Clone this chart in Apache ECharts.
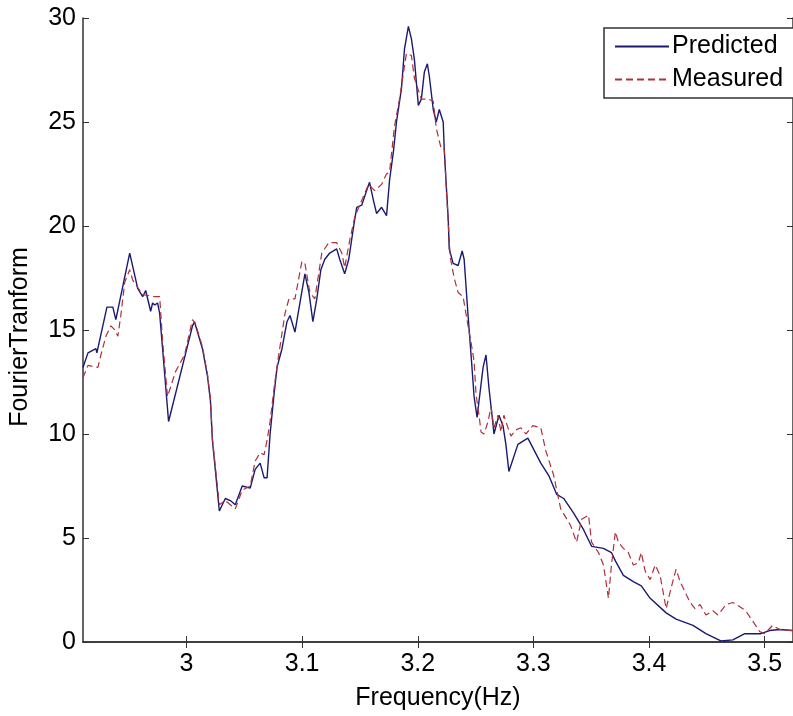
<!DOCTYPE html>
<html>
<head>
<meta charset="utf-8">
<title>Fourier transform</title>
<script src="https://cdn.jsdelivr.net/npm/echarts@6/dist/echarts.min.js"></script>
<style>
  html, body { margin: 0; padding: 0; background: #fff; }
  #chart { width: 793px; height: 716px; }
</style>
</head>
<body>
<div id="chart"></div>
<script>
// 预测曲线
const predFreq = [2.9105, 2.9148, 2.9217, 2.9225, 2.9312, 2.9363, 2.9389, 2.9509, 2.9578, 2.9621,
  2.9647, 2.9690, 2.9707, 2.9725, 2.9750, 2.9768, 2.9845, 3.0052, 3.0069, 3.0138,
  3.0181, 3.0207, 3.0224, 3.0284, 3.0336, 3.0379, 3.0422, 3.0482, 3.0551, 3.0594,
  3.0637, 3.0671, 3.0697, 3.0723, 3.0757, 3.0783, 3.0826, 3.0869, 3.0895, 3.0938,
  3.0981, 3.1024, 3.1059, 3.1093, 3.1127, 3.1162, 3.1196, 3.1239, 3.1299, 3.1325,
  3.1368, 3.1403, 3.1446, 3.1472, 3.1515, 3.1558, 3.1583, 3.1618, 3.1644, 3.1687,
  3.1730, 3.1756, 3.1790, 3.1816, 3.1859, 3.1885, 3.1919, 3.1945, 3.1971, 3.2005,
  3.2031, 3.2057, 3.2083, 3.2100, 3.2134, 3.2160, 3.2186, 3.2220, 3.2229, 3.2246,
  3.2263, 3.2272, 3.2306, 3.2349, 3.2384, 3.2401, 3.2435, 3.2461, 3.2487, 3.2513,
  3.2530, 3.2565, 3.2590, 3.2616, 3.2642, 3.2659, 3.2702, 3.2737, 3.2762, 3.2788,
  3.2866, 3.2952, 3.3064, 3.3133, 3.3201, 3.3262, 3.3348, 3.3434, 3.3503, 3.3606,
  3.3675, 3.3709, 3.3778, 3.3864, 3.3933, 3.4010, 3.4148, 3.4234, 3.4380, 3.4492,
  3.4621, 3.4725, 3.4828, 3.4966, 3.5043, 3.5129, 3.5241]
const predVal = [13.2, 13.9, 14.1, 13.9, 16.1, 16.1, 15.5, 18.7, 17.0, 16.6,
  16.9, 15.9, 16.3, 16.2, 16.3, 15.8, 10.6, 15.2, 15.4, 14.1,
  12.8, 11.6, 9.7, 6.3, 6.9, 6.8, 6.6, 7.5, 7.4, 8.3,
  8.6, 7.9, 7.9, 10.0, 11.9, 13.2, 14.1, 15.4, 15.7, 14.9,
  16.3, 17.7, 16.8, 15.4, 16.5, 17.9, 18.4, 18.7, 18.9, 18.4,
  17.7, 18.4, 20.0, 20.9, 21.0, 21.7, 22.1, 21.2, 20.6, 20.9,
  20.5, 22.2, 23.6, 25.0, 26.6, 28.5, 29.6, 29.0, 28.0, 25.8,
  26.1, 27.4, 27.8, 27.2, 25.6, 25.0, 25.6, 25.0, 23.7, 22.0,
  20.4, 18.9, 18.2, 18.1, 18.8, 18.4, 15.7, 13.8, 11.8, 10.8,
  11.6, 13.2, 13.8, 12.2, 10.9, 10.0, 10.9, 10.4, 9.5, 8.2,
  9.5, 9.8, 8.6, 8.0, 7.1, 6.9, 6.2, 5.4, 4.6, 4.5,
  4.3, 3.9, 3.2, 2.9, 2.7, 2.1, 1.4, 1.1, 0.8, 0.4,
  0.05, 0.1, 0.4, 0.4, 0.55, 0.6, 0.55]

// 实测曲线
const measFreq = [2.9105, 2.9148, 2.9234, 2.9260, 2.9303, 2.9346, 2.9380, 2.9406, 2.9432, 2.9466,
  2.9509, 2.9535, 2.9621, 2.9725, 2.9768, 2.9793, 2.9836, 2.9905, 2.9983, 3.0052,
  3.0077, 3.0138, 3.0181, 3.0207, 3.0224, 3.0284, 3.0336, 3.0422, 3.0482, 3.0551,
  3.0594, 3.0637, 3.0671, 3.0697, 3.0723, 3.0757, 3.0792, 3.0852, 3.0886, 3.0938,
  3.0998, 3.1024, 3.1067, 3.1110, 3.1170, 3.1231, 3.1299, 3.1343, 3.1368, 3.1411,
  3.1454, 3.1497, 3.1575, 3.1627, 3.1687, 3.1730, 3.1756, 3.1799, 3.1842, 3.1902,
  3.1945, 3.1971, 3.2031, 3.2091, 3.2134, 3.2160, 3.2203, 3.2229, 3.2255, 3.2281,
  3.2315, 3.2349, 3.2392, 3.2435, 3.2461, 3.2487, 3.2504, 3.2530, 3.2547, 3.2573,
  3.2608, 3.2633, 3.2659, 3.2694, 3.2719, 3.2745, 3.2780, 3.2806, 3.2849, 3.2892,
  3.2935, 3.2995, 3.3064, 3.3107, 3.3176, 3.3236, 3.3322, 3.3373, 3.3417, 3.3477,
  3.3503, 3.3563, 3.3606, 3.3649, 3.3675, 3.3709, 3.3735, 3.3778, 3.3821, 3.3864,
  3.3907, 3.3933, 3.3967, 3.4010, 3.4053, 3.4096, 3.4122, 3.4148, 3.4191, 3.4234,
  3.4269, 3.4312, 3.4355, 3.4398, 3.4441, 3.4492, 3.4552, 3.4596, 3.4639, 3.4664,
  3.4725, 3.4785, 3.4836, 3.4897, 3.4957, 3.5000, 3.5069, 3.5129, 3.5241]
const measVal = [12.7, 13.3, 13.2, 13.8, 14.7, 15.2, 15.0, 14.7, 15.7, 17.3,
  17.9, 17.4, 16.7, 16.6, 16.6, 14.5, 11.8, 13.0, 13.8, 15.5,
  15.3, 14.2, 12.9, 11.7, 9.8, 6.6, 6.8, 6.4, 7.3, 7.5,
  8.7, 9.1, 9.0, 9.7, 10.6, 12.2, 13.6, 15.8, 16.5, 16.5,
  18.3, 18.2, 16.8, 16.5, 18.7, 19.2, 19.2, 18.7, 18.0, 19.3,
  20.4, 21.0, 22.0, 21.7, 22.0, 22.5, 22.6, 24.8, 26.1, 28.3,
  28.2, 27.1, 26.1, 26.1, 26.0, 24.7, 23.7, 23.7, 21.0, 18.5,
  17.5, 16.8, 16.6, 15.2, 14.4, 13.5, 11.9, 10.9, 10.1, 10.0,
  10.6, 11.3, 10.3, 10.9, 10.1, 10.9, 10.3, 9.9, 10.2, 10.3,
  10.0, 10.4, 10.3, 9.2, 8.0, 6.4, 5.6, 4.8, 5.9, 6.1,
  4.8, 4.3, 3.7, 2.1, 3.7, 5.3, 4.8, 4.5, 4.3, 3.7,
  3.8, 4.3, 3.4, 3.0, 3.7, 3.2, 2.4, 1.6, 2.6, 3.5,
  2.9, 2.4, 1.9, 1.6, 1.8, 1.3, 1.5, 1.3, 1.6, 1.8,
  1.9, 1.7, 1.5, 1.0, 0.5, 0.4, 0.8, 0.6, 0.55]

// 坐标轴刻度
const xTicks = [3, 3.1, 3.2, 3.3, 3.4, 3.5]
const xMin = 2.9105
const xMax = 3.5245

const FONT = "'Liberation Sans', Arial, sans-serif"
const AXIS_COLOR = '#333'

const toPairs = (xs, ys) => xs.map((x, i) => [x, ys[i]])

const chart = echarts.init(document.getElementById('chart'))

const baseX = {
  type: 'value',
  min: xMin,
  max: xMax,
  splitLine: { show: false },
  axisLine: { lineStyle: { color: AXIS_COLOR, width: 1.5 } },
  axisTick: { inside: true, length: 6, customValues: xTicks, lineStyle: { color: AXIS_COLOR } }
}
const baseY = {
  type: 'value',
  min: 0,
  max: 30,
  interval: 5,
  splitLine: { show: false },
  axisLine: { show: true, lineStyle: { color: AXIS_COLOR, width: 1.5 } },
  axisTick: { show: true, inside: true, length: 6, lineStyle: { color: AXIS_COLOR } }
}

const option = {
  animation: false,
  backgroundColor: '#fff',
  textStyle: { fontFamily: FONT },
  grid: { left: 80, right: 0, top: 18, bottom: 65 },
  legend: {
    orient: 'vertical',
    left: 604,
    top: 28,
    padding: [6, 30, 6, 10],
    itemGap: 8,
    itemWidth: 54,
    itemHeight: 14,
    backgroundColor: '#fff',
    borderColor: '#333',
    borderWidth: 1.5,
    borderRadius: 0,
    itemStyle: { opacity: 0 },
    textStyle: { fontSize: 25, color: '#000', fontFamily: FONT, padding: [0, 0, 0, -2] },
    data: ['Predicted', 'Measured']
  },
  xAxis: [
    Object.assign({}, baseX, {
      position: 'bottom',
      name: 'Frequency(Hz)',
      nameLocation: 'middle',
      nameGap: 44,
      nameTextStyle: { fontSize: 25, color: '#000' },
      axisLabel: { customValues: xTicks, fontSize: 25, color: '#000', margin: 10 }
    }),
    Object.assign({}, baseX, {
      position: 'top',
      axisLabel: { show: false }
    })
  ],
  yAxis: [
    Object.assign({}, baseY, {
      position: 'left',
      name: 'FourierTranform',
      nameLocation: 'middle',
      nameGap: 50,
      nameTextStyle: { fontSize: 25, color: '#000', padding: [0, 0, 0, -14] },
      axisLabel: { fontSize: 25, color: '#000', margin: 7 }
    }),
    Object.assign({}, baseY, {
      position: 'right',
      axisLabel: { show: false }
    })
  ],
  series: [
    {
      name: 'Predicted',
      type: 'line',
      showSymbol: false,
      symbol: 'none',
      data: toPairs(predFreq, predVal),
      lineStyle: { color: '#1a1a70', width: 1.4 },
      itemStyle: { color: '#1a1a70' }
    },
    {
      name: 'Measured',
      type: 'line',
      showSymbol: false,
      symbol: 'none',
      data: toPairs(measFreq, measVal),
      lineStyle: { color: '#b0303c', width: 1.2, type: [7, 4] },
      itemStyle: { color: '#b0303c' }
    }
  ]
}

chart.setOption(option)
window.addEventListener('resize', () => chart.resize())
</script>
</body>
</html>
